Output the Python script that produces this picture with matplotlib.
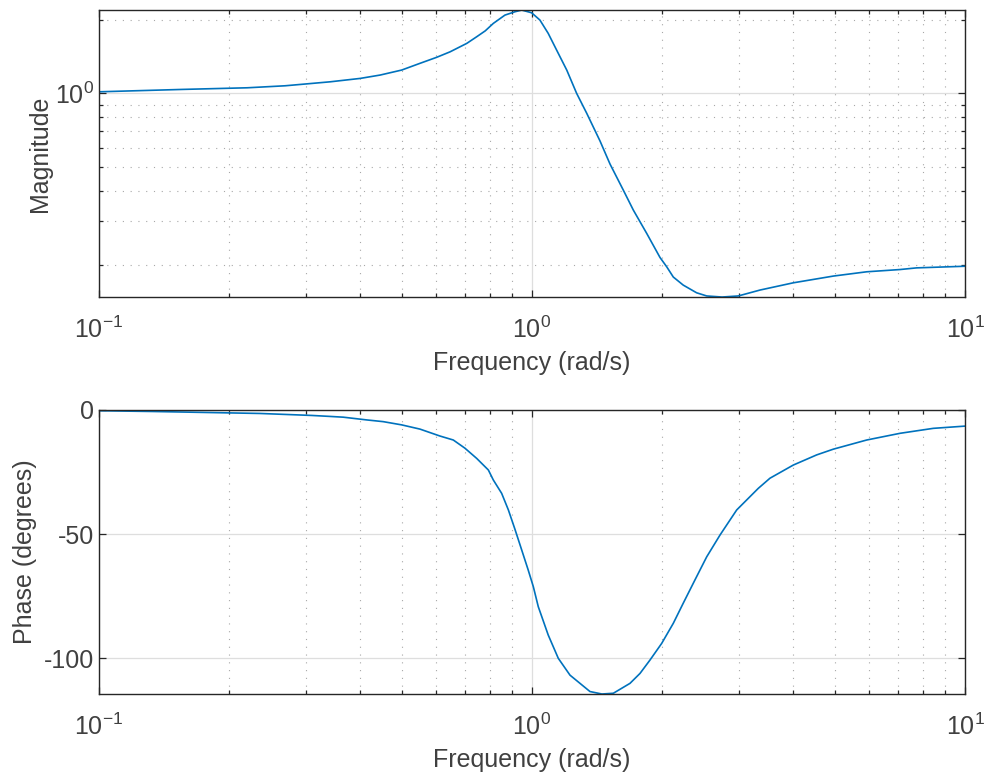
import numpy as np
import matplotlib
matplotlib.use('Agg')
import matplotlib.pyplot as plt
from matplotlib.ticker import LogLocator, NullFormatter, FixedLocator

# values
mag_freq = [0.1, 0.156, 0.22, 0.269, 0.31, 0.342, 0.401, 0.446, 0.50, 0.551, 0.602, 0.647,
            0.707, 0.745, 0.78, 0.814, 0.866, 0.913, 0.947, 0.998, 1.043, 1.09, 1.14, 1.203,
            1.268, 1.338, 1.436, 1.514, 1.625, 1.714, 1.841, 1.975, 2.047, 2.12, 2.235, 2.40,
            2.532, 2.747, 2.995, 3.362, 4.013, 4.964, 5.93, 7.08, 7.73, 10.0]
mag_vals = [1.015, 1.038, 1.054, 1.074, 1.098, 1.115, 1.151, 1.188, 1.245, 1.326, 1.403, 1.478,
            1.600, 1.702, 1.80, 1.93, 2.087, 2.153, 2.188, 2.133, 1.992, 1.758, 1.502, 1.245,
            1.0, 0.829, 0.639, 0.515, 0.403, 0.334, 0.268, 0.214, 0.196, 0.178, 0.165, 0.1535,
            0.149, 0.1475, 0.149, 0.1575, 0.1686, 0.1796, 0.187, 0.191, 0.194, 0.197]

ph_freq = [0.1, 0.1326, 0.2354, 0.31, 0.342, 0.3666, 0.415, 0.4534, 0.50, 0.551, 0.613, 0.658,
           0.70, 0.745, 0.793, 0.814, 0.851, 0.882, 0.913, 0.947, 0.980, 1.007, 1.034, 1.09,
           1.15, 1.224, 1.361, 1.45, 1.541, 1.684, 1.776, 1.873, 1.993, 2.12, 2.235, 2.379,
           2.532, 2.718, 2.97, 3.331, 3.545, 4.013, 4.545, 4.964, 5.93, 7.08, 8.45, 10.0]
ph_vals = [-0.3, -0.6, -1.4, -2.2, -2.6, -2.9, -4.0, -4.7, -6.0, -7.7, -10.5, -12.1,
           -15.4, -19.5, -24.2, -28.2, -33.6, -40.3, -48.0, -56.5, -64.5, -71.2, -79.3, -90.7,
           -100.1, -106.9, -113.5, -114.5, -114.2, -110.2, -106.2, -100.8, -94.1, -86.0, -77.9, -68.5,
           -59.2, -50.4, -40.3, -31.6, -27.5, -22.2, -18.1, -15.8, -12.1, -9.4, -7.4, -6.5]

phase_ticks = [-100, -50, 0]

plt.rcParams['font.family'] = ['Liberation Sans', 'DejaVu Sans']
plt.rcParams['axes.unicode_minus'] = False

txt = '#404040'
edge = '#262626'
blue = '#0072BD'
minor_grid = '#A8A8A8'

fig = plt.figure(figsize=(9.87, 7.79), dpi=100)
ax1 = fig.add_axes([0.1003, 0.6187, 0.8774, 0.3685])
ax2 = fig.add_axes([0.1003, 0.1091, 0.8774, 0.3646])


def style(ax):
    ax.set_xscale('log')
    ax.set_xlim(0.1, 10)
    ax.xaxis.set_major_locator(LogLocator(base=10, numticks=10))
    ax.xaxis.set_minor_locator(LogLocator(base=10, subs=np.arange(2, 10), numticks=20))
    ax.xaxis.set_minor_formatter(NullFormatter())
    for s in ax.spines.values():
        s.set_color(edge)
        s.set_linewidth(1.0)
    ax.tick_params(which='both', direction='in', top=True, right=True, color=edge,
                   labelcolor=txt, labelsize=18)
    ax.tick_params(which='major', length=5, width=0.9)
    ax.tick_params(which='minor', length=3, width=0.9)
    ax.tick_params(axis='x', which='major', pad=14)
    ax.grid(True, which='major', color='#DEDEDE', linewidth=0.9, linestyle='-')
    ax.set_axisbelow(True)
    ax.set_xlabel('Frequency (rad/s)', fontsize=18, color=txt, labelpad=6)


# magnitude
style(ax1)
ax1.set_yscale('log')
ax1.plot(mag_freq, mag_vals, color=blue, linewidth=1.2)
ax1.set_ylim(0.1475, 2.19)
ax1.yaxis.set_major_locator(LogLocator(base=10, numticks=10))
ax1.yaxis.set_minor_locator(LogLocator(base=10, subs=np.arange(2, 10), numticks=20))
ax1.yaxis.set_minor_formatter(NullFormatter())
ax1.grid(True, which='minor', color=minor_grid, linewidth=0.8, linestyle=(0, (1, 6)))
ax1.set_ylabel('Magnitude', fontsize=18, color=txt, labelpad=2)

# phase
style(ax2)
ax2.plot(ph_freq, ph_vals, color=blue, linewidth=1.2)
ax2.set_ylim(-114.5, 0)
ax2.yaxis.set_major_locator(FixedLocator(phase_ticks))
ax2.grid(True, which='minor', axis='x', color=minor_grid, linewidth=0.8, linestyle=(0, (1, 6)))
ax2.set_ylabel('Phase (degrees)', fontsize=18, color=txt, labelpad=5)

fig.savefig('out.png', dpi=100)
